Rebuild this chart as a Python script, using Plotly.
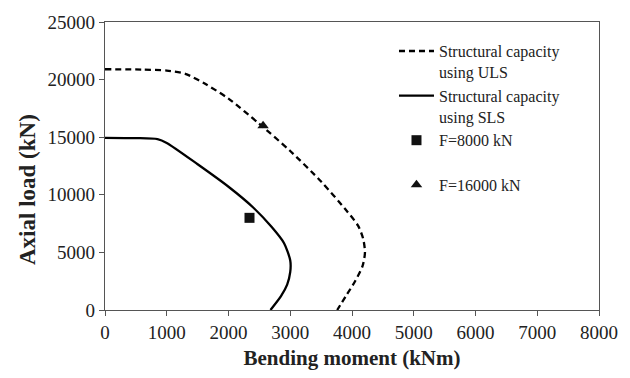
import plotly.graph_objects as go

# ULS capacity curve (bending moment kNm, axial load kN)
uls_m = [0, 600, 1000, 1300, 1600, 2000, 2500, 3000, 3500, 3900, 4100, 4180, 4210, 4170, 4050, 3900, 3760]
uls_n = [20900, 20870, 20780, 20500, 19700, 18350, 16150, 13800, 11150, 8700, 7300, 6200, 5000, 3800, 2500, 1200, 0]

# SLS capacity curve
sls_m = [0, 500, 850, 1000, 1500, 2000, 2400, 2700, 2900, 3000, 3000, 2950, 2850, 2680]
sls_n = [14950, 14920, 14830, 14500, 12650, 10700, 8900, 7200, 5800, 4300, 3300, 2200, 1200, 0]

# Load points
p8000_m = [2340]
p8000_n = [8000]
p16000_m = [2560]
p16000_n = [16000]

FONT = "Liberation Serif, Times New Roman, serif"

fig = go.Figure()
fig.add_trace(go.Scatter(x=uls_m, y=uls_n, mode="lines", name="Structural capacity<br>using ULS",
                         line=dict(color="black", width=2.3, dash="6px,4px", shape="spline", smoothing=0.7),
                         legendgroup="a"))
fig.add_trace(go.Scatter(x=sls_m, y=sls_n, mode="lines", name="Structural capacity<br>using SLS",
                         line=dict(color="black", width=2.3, shape="spline", smoothing=0.7),
                         legendgroup="b"))
fig.add_trace(go.Scatter(x=p8000_m, y=p8000_n, mode="markers", name="F=8000 kN<br> ",
                         marker=dict(symbol="square", size=10, color="#111"), legendgroup="c"))
fig.add_trace(go.Scatter(x=p16000_m, y=p16000_n, mode="markers", name="F=16000 kN",
                         marker=dict(symbol="triangle-up", size=10, color="#111"), legendgroup="d"))

axis_common = dict(showgrid=False, zeroline=False, showline=True, linecolor="#555", linewidth=1.2,
                   mirror=True, ticks="outside", ticklen=5, tickcolor="#555", tickformat="d",
                   tickfont=dict(family=FONT, size=19, color="#222"))

fig.update_layout(
    width=630, height=378,
    margin=dict(l=105, r=31, t=17, b=63.5),
    paper_bgcolor="white", plot_bgcolor="white",
    font=dict(family=FONT, color="#222"),
    showlegend=True,
    legend=dict(x=0.585, y=0.958, xanchor="left", yanchor="top", bgcolor="rgba(0,0,0,0)",
                font=dict(family=FONT, size=16, color="#222"), valign="top",
                tracegroupgap=0, itemwidth=35, traceorder="grouped"),
    xaxis=dict(range=[0, 8000], dtick=1000, tick0=0,
               title=dict(text="<b>Bending moment (kNm)</b>", font=dict(family=FONT, size=21, color="#222"), standoff=8),
               **axis_common),
    yaxis=dict(range=[0, 25000], dtick=5000, tick0=0, **axis_common),
    annotations=[dict(text="<b>Axial load (kN)</b>", xref="paper", yref="paper", x=-0.158, y=0.42,
                      showarrow=False, textangle=-90, font=dict(family=FONT, size=23, color="#222"),
                      xanchor="center", yanchor="middle")],
)

fig.write_html("out.html")
